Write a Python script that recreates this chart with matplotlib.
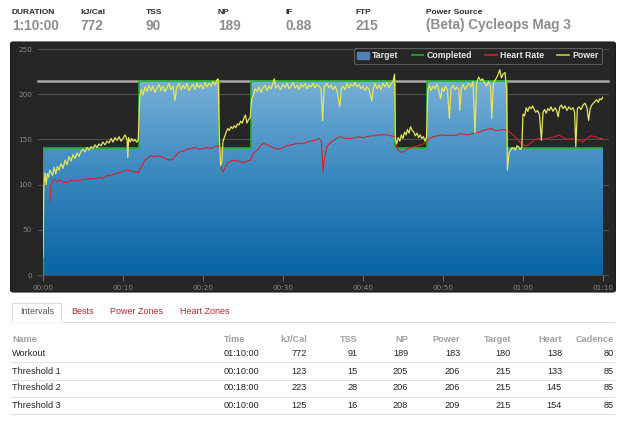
import numpy as np
import matplotlib
matplotlib.use('Agg')
import matplotlib.pyplot as plt
from matplotlib.patches import FancyBboxPatch, Rectangle, Patch
from matplotlib.lines import Line2D
from matplotlib.colors import LinearSegmentedColormap

plt.rcParams['font.family'] = ['Liberation Sans', 'DejaVu Sans']

# summary strip
summary_labels = ['DURATION', 'kJ/Cal', 'TSS', 'NP', 'IF', 'FTP', 'Power Source']
summary_values = ['1:10:00', '772', '90', '189', '0.88', '215', '(Beta) Cycleops Mag 3']

# workout target (minutes, watts)
target_min = [0, 12, 22, 26, 44, 48, 58, 70]
target_w = [140, 215, 140, 215, 140, 215, 140]
ftp = 215

# power
power_min = [0, 0.1, 0.25, 0.4, 0.55, 0.7, 0.85, 1.0, 1.2, 1.4, 1.6, 1.8, 2.0, 2.25, 2.5, 2.75,
             3.0, 3.25, 3.5, 3.75, 4.0, 4.25, 4.5, 4.75, 5.0, 5.25, 5.5, 5.75, 6.0, 6.25, 6.5, 6.75,
             7.0, 7.25, 7.5, 7.75, 8.0, 8.25, 8.5, 8.75, 9.0, 9.25, 9.5, 9.75, 10.0, 10.25, 10.5,
             10.6, 10.7, 10.9, 11.1, 11.3, 11.5, 11.7, 11.9,
             12.1, 12.3, 12.5, 12.75, 13.0, 13.25, 13.5, 13.75, 14.0, 14.25, 14.5, 14.75, 15.0,
             15.25, 15.5, 15.75, 16.0, 16.25, 16.5, 16.7, 17.0, 17.25, 17.5, 17.75, 18.0, 18.25,
             18.5, 18.75, 19.0, 19.25, 19.5, 19.75, 20.0, 20.25, 20.5, 20.75, 21.0, 21.25, 21.5,
             21.75, 21.9,
             22.05, 22.2, 22.35, 22.5, 22.7, 22.9, 23.1, 23.3, 23.5, 23.7, 23.9, 24.1, 24.3, 24.5,
             24.7, 24.9, 25.1, 25.3, 25.5, 25.7, 25.9,
             26.1, 26.3, 26.5, 26.75, 27.0, 27.25, 27.5, 27.75, 28.0, 28.25, 28.5, 28.75, 28.9,
             29.1, 29.4, 29.7, 30.0, 30.25, 30.5, 30.75, 31.0, 31.25, 31.5, 31.75, 32.0, 32.25,
             32.5, 32.75, 33.0, 33.25, 33.5, 33.75, 34.0, 34.25, 34.5, 34.75, 34.95, 35.15, 35.5,
             35.75, 36.0, 36.25, 36.5, 36.75, 37.1, 37.3, 37.5, 37.75, 38.0, 38.25, 38.5, 38.75,
             39.0, 39.25, 39.5, 39.75, 40.0, 40.25, 40.5, 40.75, 41.1, 41.3, 41.5, 41.75, 42.0,
             42.25, 42.5, 42.75, 43.0, 43.25, 43.5, 43.75, 43.95,
             44.05, 44.2, 44.4, 44.6, 44.8, 45.0, 45.2, 45.4, 45.55, 45.75, 45.95, 46.15, 46.35,
             46.55, 46.75, 46.95, 47.15, 47.35, 47.55, 47.75, 47.95,
             48.1, 48.3, 48.5, 48.75, 49.0, 49.25, 49.5, 49.7, 49.9, 50.1, 50.3, 50.55, 50.8, 51.0,
             51.25, 51.5, 51.75, 52.0, 52.1, 52.3, 52.5, 52.75, 53.0, 53.25, 53.5, 53.75, 54.0,
             54.2, 54.45, 54.7, 54.95, 55.2, 55.45, 55.7, 55.95, 56.1, 56.3, 56.55, 56.8, 57.1,
             57.3, 57.5, 57.75, 57.95,
             58.05, 58.25, 58.45, 58.65, 58.85, 59.05, 59.25, 59.45, 59.65, 59.85, 60.0, 60.2,
             60.4, 60.6, 60.8, 61.0, 61.2, 61.4, 61.6, 61.8, 62.05, 62.3, 62.5, 62.7, 62.9, 63.1,
             63.3, 63.5, 63.75, 64.0, 64.2, 64.4, 64.6, 64.8, 65.0, 65.25, 65.5, 65.75, 66.0,
             66.25, 66.45, 66.6, 66.8, 67.0, 67.25, 67.5, 67.75, 68.0, 68.2, 68.4, 68.6, 68.8,
             69.0, 69.2, 69.4, 69.6, 69.8, 70.0]
power_w = [20, 97, 113, 100, 112, 108, 116, 114, 110, 119, 112, 120, 116, 123, 118, 127,
           122, 131, 126, 133, 129, 135, 131, 137, 139, 136, 141, 138, 142, 140, 144, 141,
           145, 143, 147, 144, 148, 146, 151, 147, 152, 149, 153, 148, 151, 155, 150,
           130, 152, 147, 151, 148, 150, 147, 149,
           198, 205, 199, 208, 203, 210, 204, 209, 202, 207, 211, 204, 209,
           203, 207, 212, 205, 209, 193, 207, 212, 205, 210, 206, 212, 204,
           208, 211, 205, 212, 207, 211, 206, 213, 208, 212, 209, 214, 210,
           216, 217,
           150, 121, 125, 148, 153, 158, 162, 160, 164, 162, 165, 163, 167, 166,
           170, 168, 173, 177, 168, 172, 174,
           195, 199, 206, 203, 208, 202, 207, 210, 204, 209, 206, 212, 217,
           207, 210, 205, 211, 207, 212, 206, 209, 213, 207, 210, 205, 211,
           208, 212, 206, 210, 208, 212, 207, 211, 209, 206, 171, 208, 212,
           207, 210, 205, 209, 204, 186, 206, 209, 205, 212, 207, 211, 209,
           213, 208, 211, 206, 209, 204, 208, 205, 193, 207, 212, 206, 210,
           205, 212, 208, 213, 207, 211, 214, 222,
           150, 145, 152, 148, 155, 151, 158, 155, 161, 157, 164, 160, 158,
           154, 157, 152, 155, 151, 153, 148, 153,
           205, 210, 204, 209, 206, 211, 203, 195, 207, 203, 209, 205, 173, 206,
           210, 205, 208, 204, 182, 207, 211, 205, 209, 212, 208, 214, 157,
           212, 219, 215, 217, 212, 209, 214, 208, 173, 212, 216, 220, 227,
           218, 222, 224, 205,
           116, 135, 138, 141, 140, 138, 143, 142, 139, 141, 178, 176,
           185, 181, 186, 184, 187, 183, 180, 182, 178, 149, 180, 183, 179, 184,
           182, 186, 181, 185, 182, 175, 186, 188, 184, 187, 182, 186, 183,
           185, 180, 142, 184, 186, 183, 188, 190, 185, 171, 184, 188, 190,
           192, 194, 191, 195, 194, 197]

# heart rate
hr_min = [0.85, 1.0, 1.25, 1.5, 1.75, 2.0, 2.5, 3.0, 3.5, 4.0, 4.5, 5.0, 5.5, 6.0, 6.5, 7.0,
          7.5, 8.0, 8.5, 9.0, 9.5, 10.0, 10.5, 11.0, 11.5, 11.9, 12.3, 12.6, 13.0, 13.5, 14.0,
          14.5, 15.0, 15.5, 16.0, 16.5, 17.0, 17.5, 18.0, 18.5, 19.0, 19.5, 20.0, 20.5, 21.0,
          21.5, 21.9, 22.1, 22.3, 22.5, 22.8, 23.1, 23.5, 24.0, 24.5, 25.0, 25.5, 25.9, 26.3,
          26.8, 27.2, 27.6, 28.0, 28.5, 29.0, 29.5, 30.0, 30.5, 31.0, 31.5, 32.0, 32.5, 33.0,
          33.5, 34.0, 34.5, 34.8, 35.0, 35.2, 35.5, 36.0, 36.5, 37.0, 37.5, 38.0, 38.5, 39.0,
          39.5, 40.0, 40.5, 41.0, 41.5, 42.0, 42.5, 43.0, 43.5, 44.0, 44.3, 44.7, 45.0, 45.5,
          46.0, 46.5, 47.0, 47.5, 47.9, 48.3, 48.8, 49.3, 50.0, 50.5, 51.0, 51.5, 52.0, 52.5,
          53.0, 53.5, 54.0, 54.5, 55.0, 55.5, 56.0, 56.5, 57.0, 57.5, 58.0, 58.5, 59.0, 59.5,
          60.0, 60.5, 61.0, 61.5, 62.0, 62.5, 63.0, 63.5, 64.0, 64.5, 65.0, 65.5, 66.0, 66.5,
          67.0, 67.5, 68.0, 68.5, 69.0, 69.5, 70.0]
hr_bpm = [81, 100, 104, 106, 103, 105, 103, 102, 105, 104, 104, 106, 106, 107, 106, 108,
          107, 110, 110, 112, 113, 115, 116, 115, 114, 113, 120, 125, 129, 132, 131,
          132, 130, 128, 127, 131, 136, 137, 139, 140, 141, 139, 140, 141, 140,
          142, 143, 140, 117, 114, 120, 124, 126, 127, 126, 124, 126, 127, 135,
          138, 143, 146, 144, 142, 140, 139, 141, 143, 144, 145, 146, 145, 147,
          148, 149, 151, 148, 114, 130, 142, 147, 150, 153, 152, 151, 151, 152,
          153, 152, 153, 154, 154, 155, 155, 155, 154, 153, 139, 136, 136, 139,
          141, 142, 143, 145, 147, 151, 153, 154, 155, 154, 155, 154, 156, 156,
          155, 156, 157, 158, 160, 161, 162, 160, 160, 161, 160, 157, 153, 148,
          144, 143, 146, 150, 151, 150, 151, 152, 153, 155, 152, 150, 151, 150,
          149, 147, 151, 154, 153, 151, 151]

# intervals table
table_cols = ['Name', 'Time', 'kJ/Cal', 'TSS', 'NP', 'Power', 'Target', 'Heart', 'Cadence']
row_names = ['Workout', 'Threshold 1', 'Threshold 2', 'Threshold 3']
row_time = ['01:10:00', '00:10:00', '00:18:00', '00:10:00']
row_kj = [772, 123, 223, 125]
row_tss = [91, 15, 28, 16]
row_np = [189, 205, 206, 208]
row_power = [183, 206, 206, 209]
row_target = [180, 215, 215, 215]
row_heart = [138, 133, 145, 154]
row_cadence = [80, 85, 85, 85]
tabs = ['Intervals', 'Bests', 'Power Zones', 'Heart Zones']

W, H = 640, 429


def fx(x):
    return x / W


def fy(y):
    return 1 - y / H


fig = plt.figure(figsize=(6.4, 4.29), dpi=100)
fig.patch.set_facecolor('white')

# header strip
head_x = [12, 80, 146, 218, 286, 356, 426]
for x, lab, val in zip(head_x, summary_labels, summary_values):
    fig.text(fx(x), fy(12), lab, fontsize=6, fontweight='bold', color='#2a2a2a',
             ha='left', va='center')
    fig.text(fx(x), fy(25.5), val, fontsize=9.8, fontweight='bold', color='#8d8d8d',
             ha='left', va='center')

# dark panel behind the chart
panel = FancyBboxPatch((fx(12), fy(291)), fx(602), 248 / H,
                       boxstyle='round,pad=0.002,rounding_size=0.004',
                       transform=fig.transFigure, facecolor='#262626',
                       edgecolor='#1a1a1a', lw=1, zorder=-5)
fig.patches.append(panel)

ax = fig.add_axes([fx(43), fy(275), 560 / W, 226 / H])
ax.patch.set_alpha(0)
ax.set_xlim(0, 70)
ax.set_ylim(0, 250)
for s in ax.spines.values():
    s.set_visible(False)

ext = 5 / 560
for g in [0, 50, 100, 150, 200, 250]:
    ax.axhline(g, xmin=-ext, xmax=1 + ext, color='#4e4e4e', lw=0.8, zorder=0.5, clip_on=False)
ax.axhline(ftp, xmin=-ext, xmax=1 + ext, color='#a8a8a8', lw=1.8, zorder=0.8, clip_on=False)

# target area with vertical gradient
tx = np.array(target_min, dtype=float)
ty = np.array(target_w + [target_w[-1]], dtype=float)
poly = ax.fill_between(tx, 0, ty, step='post', facecolor='none', edgecolor='none')
cmap = LinearSegmentedColormap.from_list('tgt', ['#0864a4', '#3a88bf', '#7cb2d8'])
grad = np.linspace(0, 1, 256).reshape(-1, 1)
im = ax.imshow(grad, cmap=cmap, extent=[0, 70, 0, 222], origin='lower',
               aspect='auto', zorder=1)
im.set_clip_path(poly.get_paths()[0], ax.transData)
ax.set_xlim(0, 70)
ax.set_ylim(0, 250)

ax.step(tx, ty, where='post', color='#22b222', lw=1.2, zorder=2)
ax.plot([0, 0], [0, target_w[0]], color='#22b222', lw=1.0, zorder=2)
ax.plot(hr_min, hr_bpm, color='#d8202a', lw=0.8, zorder=3)
ax.plot(power_min, power_w, color='#e6e65a', lw=0.9, zorder=4)

ax.set_yticks([0, 50, 100, 150, 200, 250])
ax.set_xticks(range(0, 71, 10))
ax.set_xticklabels(['00:00', '00:10', '00:20', '00:30', '00:40', '00:50', '01:00', '01:10'])
ax.tick_params(axis='y', length=0, pad=8, labelsize=5.2, labelcolor='#8a8a8a')
ax.tick_params(axis='x', length=4, width=0.8, color='#6a6a6a', pad=3,
               labelsize=5.2, labelcolor='#8a8a8a')
for lab in ax.get_xticklabels() + ax.get_yticklabels():
    lab.set_family('DejaVu Sans')

handles = [Patch(facecolor='#4f7fb8', edgecolor='#4f7fb8'),
           Line2D([], [], color='#22b222', lw=1.2),
           Line2D([], [], color='#d8202a', lw=1.2),
           Line2D([], [], color='#c8c83a', lw=1.2)]
leg = ax.legend(handles, ['Target', 'Completed', 'Heart Rate', 'Power'], ncol=4,
                loc='upper right', bbox_to_anchor=(fx(602), fy(48)),
                bbox_transform=fig.transFigure, borderaxespad=0, frameon=True, fontsize=6.3,
                handlelength=1.3, handleheight=0.9, handletextpad=0.4,
                columnspacing=1.5, borderpad=0.4, labelcolor='#e8e8e8',
                facecolor='#262626', edgecolor='#6a6a6a', fancybox=True)
leg.get_frame().set_linewidth(0.8)
for t in leg.get_texts():
    t.set_fontweight('bold')

# tabs
tab_x = [20, 71, 110, 180]
fig.lines.append(Line2D([fx(11), fx(614)], [fy(322), fy(322)], transform=fig.transFigure,
                        color='#dddddd', lw=0.8))
fig.patches.append(Rectangle((fx(12), fy(322)), 49 / W, 19 / H, transform=fig.transFigure,
                             facecolor='white', edgecolor='#dddddd', lw=0.8, zorder=2))
fig.lines.append(Line2D([fx(12.5), fx(60.5)], [fy(322), fy(322)], transform=fig.transFigure,
                        color='white', lw=1.2, zorder=3))
for i, (x, t) in enumerate(zip(tab_x, tabs)):
    fig.text(fx(x), fy(312), t, fontsize=6.5, color='#555555' if i == 0 else '#b8282c',
             ha='left', va='center', zorder=4)

# table
col_x = [12, 224, 307, 358, 408, 460, 511, 562, 614]
col_ha = ['left', 'left'] + ['right'] * 7
for x, ha, c in zip(col_x, col_ha, table_cols):
    fig.text(fx(x), fy(339), c, fontsize=6.6, fontweight='bold', color='#a0a0a0',
             ha=ha, va='center')
row_y = [353, 371, 388, 405]
for r, y in enumerate(row_y):
    vals = [row_names[r], row_time[r], row_kj[r], row_tss[r], row_np[r], row_power[r],
            row_target[r], row_heart[r], row_cadence[r]]
    for x, ha, v in zip(col_x, col_ha, vals):
        fig.text(fx(x), fy(y), str(v), fontsize=6.6, color='#222222', ha=ha, va='center')
    fig.lines.append(Line2D([fx(11), fx(614)], [fy(y + 8.5), fy(y + 8.5)],
                            transform=fig.transFigure, color='#e2e2e2', lw=0.8))

fig.savefig('out.png', dpi=100)
